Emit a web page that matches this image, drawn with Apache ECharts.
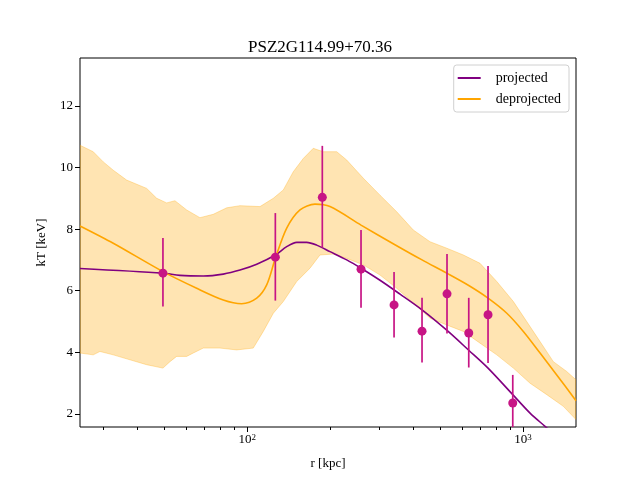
<!DOCTYPE html>
<html>
<head>
<meta charset="utf-8">
<script src="https://cdn.jsdelivr.net/npm/echarts@6/dist/echarts.min.js"></script>
<style>
  html, body { margin: 0; padding: 0; background: #fff; }
  #main { width: 640px; height: 480px; }
</style>
</head>
<body>
<div id="main"></div>
<script>
  // radius in kpc, temperature in keV
  var pointR  = [49.45, 126.4, 187.1, 258.5, 340.6, 430.2, 530.0, 635.5, 746.5, 917.7];
  var pointT  = [6.57, 7.09, 9.03, 6.70, 5.54, 4.69, 5.90, 4.63, 5.22, 2.36];
  var pointHi = [7.71, 8.52, 10.70, 7.97, 6.61, 5.77, 7.19, 5.77, 6.80, 3.27];
  var pointLo = [5.49, 5.68, 7.40, 5.45, 4.48, 3.67, 4.61, 3.51, 3.66, 1.45];

  var projR = [24.74, 49.45, 57.0, 69.24, 81.83, 94.08, 108.2, 126.4, 139.0, 151.1, 164.2, 178.5,
               199.5, 229.4, 258.5, 302.9, 358.0, 430.2, 528.8, 635.5, 746.5, 917.7, 1060.2, 1201.7, 1300];
  var projT = [6.72, 6.57, 6.50, 6.48, 6.54, 6.67, 6.86, 7.16, 7.43, 7.57, 7.57, 7.48,
               7.27, 7.00, 6.73, 6.34, 5.89, 5.38, 4.72, 4.07, 3.49, 2.63, 2.03, 1.60, 1.33];

  var deprojR = [24.74, 32.66, 49.45, 65.54, 81.83, 95.43, 108.2, 117.6, 126.4, 139.0, 155.3, 176.0,
                 199.5, 258.5, 340.6, 430.2, 528.8, 635.5, 746.5, 873.2, 1002.5, 1152.7, 1325, 1556];
  var deprojT = [8.10, 7.54, 6.62, 6.08, 5.70, 5.58, 5.76, 6.19, 7.05, 8.03, 8.62, 8.81,
                 8.73, 8.13, 7.51, 7.00, 6.57, 6.17, 5.76, 5.27, 4.68, 3.98, 3.27, 2.43];

  var bandUpR = [24.74, 27.63, 30.05, 32.66, 36.52, 43.17, 46.93, 51.02, 54.67, 60.29, 67.35, 75.29,
                 84.21, 94.08, 111.2, 124.3, 135.1, 146.8, 159.6, 173.5, 188.7, 211.0, 229.4, 263.5,
                 302.9, 348.3, 400.0, 459.9, 528.8, 607.5, 698.3, 802.9, 922.3, 1031.3, 1152.7, 1288, 1440, 1556];
  var bandUpT = [10.72, 10.51, 10.18, 9.91, 9.59, 9.32, 9.00, 8.85, 8.92, 8.62, 8.37, 8.48,
                 8.69, 8.76, 8.73, 9.00, 9.27, 9.86, 10.29, 10.62, 10.51, 10.51, 10.24, 9.65,
                 9.10, 8.56, 7.97, 7.59, 7.38, 7.16, 6.89, 6.30, 5.65, 5.00, 4.35, 3.70, 3.38, 3.11];

  var bandLoR = [24.74, 27.63, 29.22, 32.66, 37.54, 43.17, 49.45, 52.44, 55.44, 60.29, 63.70, 69.24,
                 79.61, 91.53, 105.1, 114.3, 124.3, 135.1, 151.1, 168.8, 183.5, 205.1, 229.4, 263.5,
                 302.9, 348.3, 400.0, 459.9, 528.8, 607.5, 698.3, 802.9, 922.3, 1060.2, 1218.9, 1400, 1556];
  var bandLoT = [3.98, 3.92, 4.03, 3.92, 3.76, 3.60, 3.49, 3.70, 3.87, 3.87, 3.98, 4.14,
                 4.14, 4.08, 4.14, 4.68, 5.27, 5.65, 6.30, 6.73, 7.16, 7.19, 7.05, 6.84,
                 6.51, 6.08, 5.60, 5.11, 4.89, 4.68, 4.30, 3.92, 3.49, 3.00, 2.63, 2.25, 1.82];

  var xMin = 24.74, xMax = 1556, yMin = 1.58, yMax = 13.55;
  var yTicks = [2, 4, 6, 8, 10, 12];
  var xMajor = [100, 1000];
  var xMinor = [30, 40, 50, 60, 70, 80, 90, 200, 300, 400, 500, 600, 700, 800, 900];

  var lg = Math.log10;
  function pairs(rs, ts) {
    return rs.map(function (r, i) { return [lg(r), ts[i]]; });
  }

  var font = '"Liberation Serif", "DejaVu Serif", serif';
  var bandPts = pairs(bandUpR, bandUpT).concat(pairs(bandLoR, bandLoT).reverse());

  var chart = echarts.init(document.getElementById('main'), null, { renderer: 'canvas' });

  var option = {
    animation: false,
    backgroundColor: '#fff',
    title: {
      text: 'PSZ2G114.99+70.36',
      left: 'center',
      top: 34,
      textStyle: { fontFamily: font, fontWeight: 'normal', fontSize: 17, color: '#000' }
    },
    legend: {
      orient: 'vertical',
      right: 71,
      top: 65,
      data: ['projected', 'deprojected'],
      icon: 'rect',
      itemWidth: 23,
      itemHeight: 2,
      itemGap: 7,
      padding: [6, 8, 6, 4],
      backgroundColor: 'rgba(255,255,255,0.8)',
      borderColor: '#d0d0d0',
      borderWidth: 1,
      borderRadius: 3,
      textStyle: { fontFamily: font, fontSize: 14, color: '#000', padding: [0, 0, 0, 10] }
    },
    grid: {
      left: 80, right: 64, top: 58, bottom: 53,
      show: true, borderColor: '#000', borderWidth: 1, backgroundColor: 'transparent'
    },
    xAxis: [{
      type: 'value',
      min: lg(xMin), max: lg(xMax),
      position: 'bottom',
      name: 'r [kpc]',
      nameLocation: 'middle',
      nameGap: 30,
      nameTextStyle: { fontFamily: font, fontSize: 13, color: '#000' },
      axisLine: { show: false },
      splitLine: { show: false },
      axisTick: { show: true, length: 5, lineStyle: { color: '#000' }, customValues: xMajor.map(lg) },
      axisLabel: {
        customValues: xMajor.map(lg),
        margin: 6,
        formatter: function (v) { return '{b|10}{s|' + Math.round(v) + '}'; },
        rich: {
          b: { fontFamily: font, fontSize: 13, color: '#000' },
          s: { fontFamily: font, fontSize: 9, color: '#000', verticalAlign: 'top' }
        }
      }
    }, {
      type: 'value',
      min: lg(xMin), max: lg(xMax),
      position: 'bottom',
      axisLine: { show: false },
      splitLine: { show: false },
      axisTick: { show: true, length: 3, lineStyle: { color: '#000' }, customValues: xMinor.map(lg) },
      axisLabel: { show: false }
    }],
    yAxis: {
      type: 'value',
      min: yMin, max: yMax,
      name: 'kT [keV]',
      nameLocation: 'middle',
      nameGap: 32,
      nameTextStyle: { fontFamily: font, fontSize: 13, color: '#000' },
      axisLine: { show: false },
      splitLine: { show: false },
      axisTick: { show: true, length: 5, lineStyle: { color: '#000' }, customValues: yTicks },
      axisLabel: { customValues: yTicks, margin: 7, fontFamily: font, fontSize: 13, color: '#000' }
    },
    series: [{
      type: 'custom',
      name: 'band',
      z: 1,
      clip: true,
      data: [0],
      renderItem: function (params, api) {
        return {
          type: 'polygon',
          shape: { points: bandPts.map(function (p) { return api.coord(p); }) },
          style: { fill: 'rgba(255,165,0,0.3)', stroke: 'rgba(255,165,0,0.3)', lineWidth: 1 }
        };
      }
    }, {
      type: 'line',
      name: 'projected',
      z: 2,
      data: pairs(projR, projT),
      showSymbol: false,
      symbol: 'none',
      smooth: 0.3,
      color: '#800080',
      lineStyle: { color: '#800080', width: 1.6 }
    }, {
      type: 'line',
      name: 'deprojected',
      z: 3,
      data: pairs(deprojR, deprojT),
      showSymbol: false,
      symbol: 'none',
      smooth: 0.3,
      color: '#FFA500',
      lineStyle: { color: '#FFA500', width: 1.6 }
    }, {
      type: 'custom',
      name: 'data',
      z: 4,
      clip: true,
      data: pointR.map(function (r, i) { return [lg(r), pointT[i], pointLo[i], pointHi[i]]; }),
      renderItem: function (params, api) {
        var c = api.coord([api.value(0), api.value(1)]);
        var lo = api.coord([api.value(0), api.value(2)]);
        var hi = api.coord([api.value(0), api.value(3)]);
        return {
          type: 'group',
          children: [{
            type: 'line',
            shape: { x1: lo[0], y1: lo[1], x2: hi[0], y2: hi[1] },
            style: { stroke: '#C71585', lineWidth: 1.7 }
          }, {
            type: 'circle',
            shape: { cx: c[0], cy: c[1], r: 4.5 },
            style: { fill: '#C71585' }
          }]
        };
      }
    }]
  };

  chart.setOption(option);
</script>
</body>
</html>
